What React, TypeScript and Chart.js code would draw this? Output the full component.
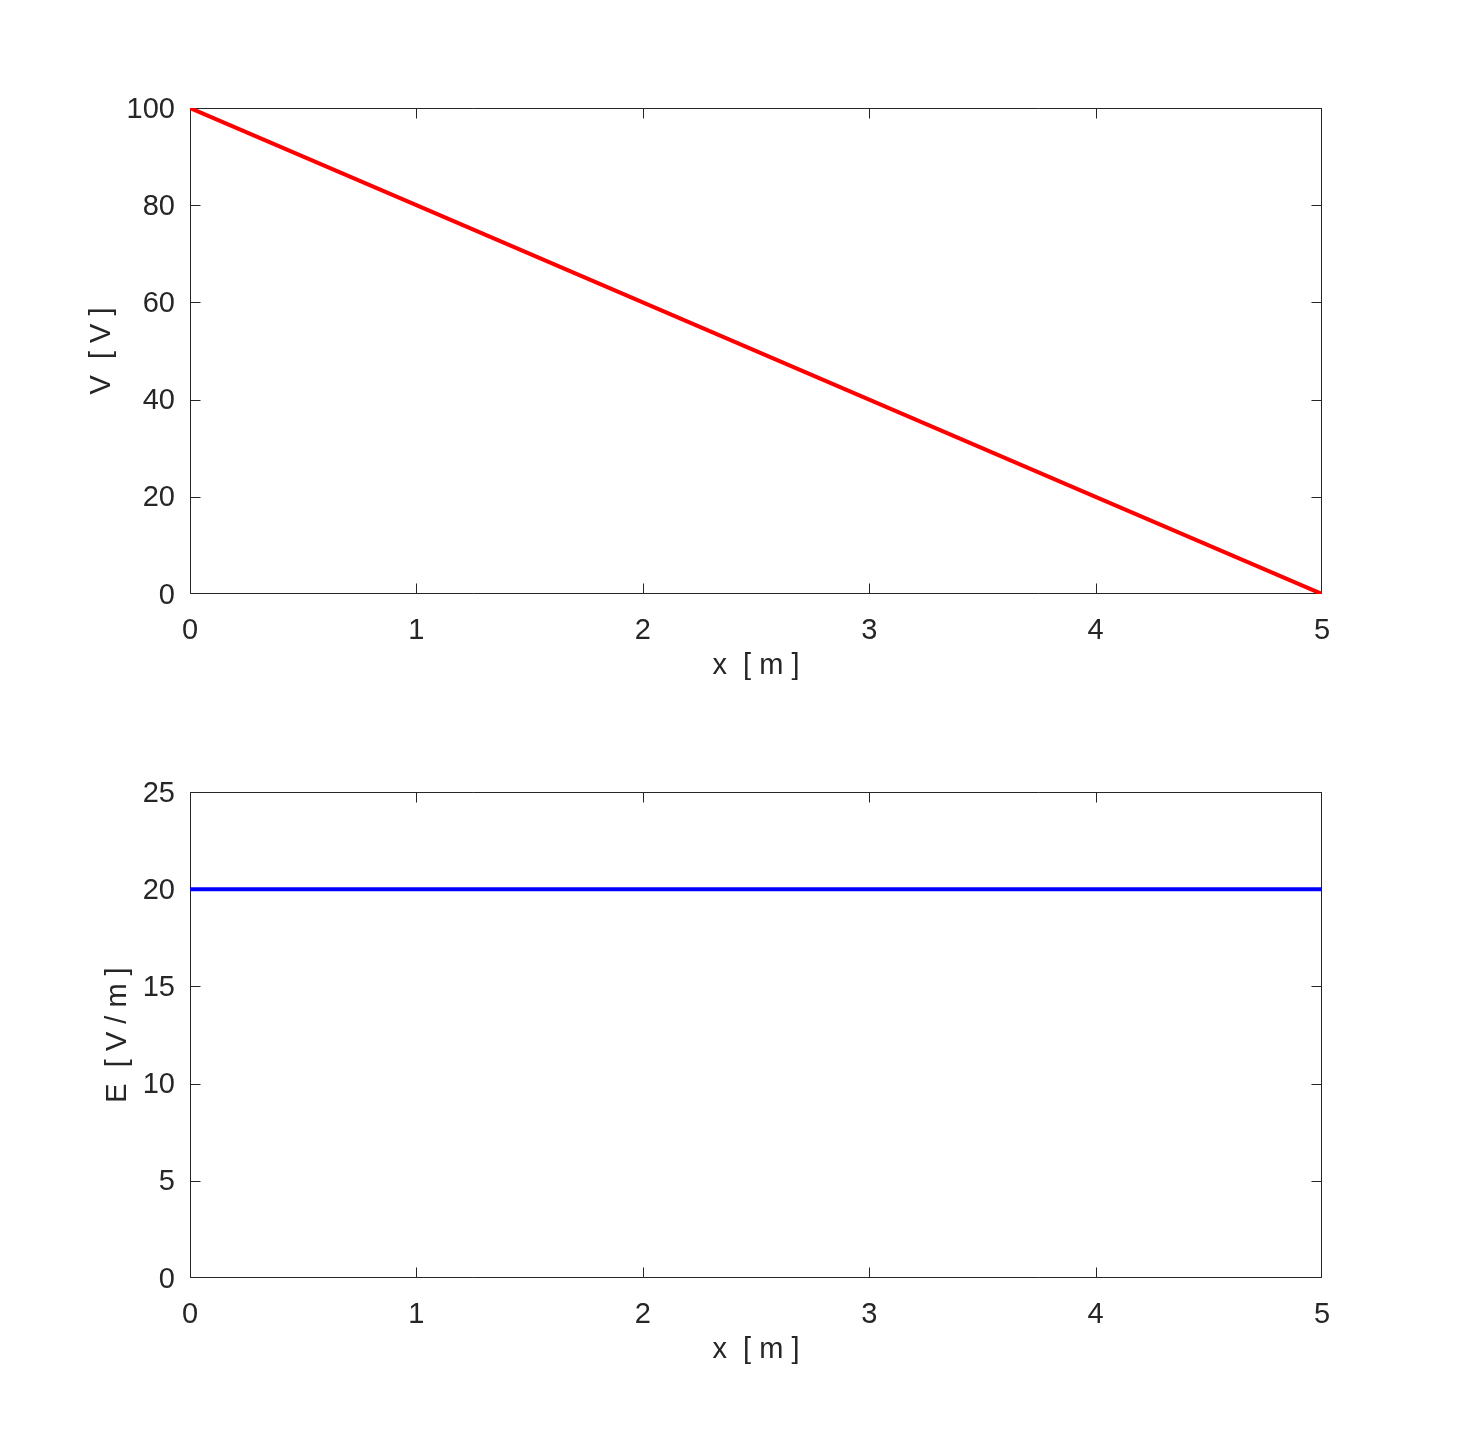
import React, { useEffect, useRef } from "react";
import { Chart, registerables } from "chart.js";

Chart.register(...registerables);

const xValues = [0, 1, 2, 3, 4, 5];
const potentialValues = [100, 80, 60, 40, 20, 0];
const fieldValues = [20, 20, 20, 20, 20, 20];
const xTickStep = 1;
const potentialTickStep = 20;
const fieldTickStep = 5;

const TEXT = "#262626";
const FONT = "'Liberation Sans', Arial, sans-serif";
const FONT_SIZE = 29;

const boxTicksPlugin = {
  id: "boxTicks",
  beforeDatasetsDraw(chart: any) {
    const { ctx, chartArea } = chart;
    const { left, right, top, bottom } = chartArea;
    const xs = chart.scales.x;
    const ys = chart.scales.y;
    const L = Math.round(left) + 0.5;
    const R = Math.round(right) - 0.5;
    const T = Math.round(top) + 0.5;
    const B = Math.round(bottom) - 0.5;
    const clamp = (v: number, a: number, b: number) => Math.min(b, Math.max(a, v));
    const len = 10;
    ctx.save();
    ctx.strokeStyle = TEXT;
    ctx.lineWidth = 1;
    ctx.beginPath();
    ctx.moveTo(L, T);
    ctx.lineTo(R, T);
    ctx.lineTo(R, B);
    ctx.lineTo(L, B);
    ctx.closePath();
    xs.ticks.forEach((t: any) => {
      const p = clamp(Math.round(xs.getPixelForValue(t.value)) + 0.5, L, R);
      ctx.moveTo(p, B);
      ctx.lineTo(p, B - len);
      ctx.moveTo(p, T);
      ctx.lineTo(p, T + len);
    });
    ys.ticks.forEach((t: any) => {
      const p = clamp(Math.round(ys.getPixelForValue(t.value)) + 0.5, T, B);
      ctx.moveTo(L, p);
      ctx.lineTo(L + len, p);
      ctx.moveTo(R, p);
      ctx.lineTo(R - len, p);
    });
    ctx.stroke();
    ctx.restore();
  },
};

function makeConfig(
  yData: number[],
  color: string,
  yMax: number,
  yStep: number,
  yTitle: string,
  leftPad: number
): any {
  const font = { family: FONT, size: FONT_SIZE };
  return {
    type: "line",
    data: {
      datasets: [
        {
          data: xValues.map((x, i) => ({ x, y: yData[i] })),
          borderColor: color,
          backgroundColor: color,
          borderWidth: 4,
          pointRadius: 0,
          tension: 0,
          fill: false,
        },
      ],
    },
    options: {
      responsive: false,
      animation: false,
      events: [],
      layout: { padding: { left: leftPad, top: 108, right: 139, bottom: 0 } },
      plugins: { legend: { display: false }, tooltip: { enabled: false } },
      scales: {
        x: {
          type: "linear",
          min: 0,
          max: 5,
          grid: { display: false, drawTicks: false },
          border: { display: false },
          ticks: { stepSize: xTickStep, color: TEXT, font, padding: 20, maxRotation: 0 },
          title: {
            display: true,
            text: "x  [ m ]",
            color: TEXT,
            font,
            padding: { top: 0, bottom: 35 },
          },
          afterFit(scale: any) {
            scale.height = 124;
          },
        },
        y: {
          type: "linear",
          min: 0,
          max: yMax,
          grid: { display: false, drawTicks: false },
          border: { display: false },
          ticks: { stepSize: yStep, color: TEXT, font, padding: 15, labelOffset: 1.5 },
          title: {
            display: true,
            text: yTitle,
            color: TEXT,
            font,
            padding: { top: 0, bottom: 0 },
          },
          afterFit(scale: any) {
            scale.width = 190 - leftPad;
          },
        },
      },
    },
    plugins: [boxTicksPlugin],
  };
}

function Panel({ top, config }: { top: number; config: any }) {
  const ref = useRef<HTMLCanvasElement | null>(null);
  useEffect(() => {
    if (!ref.current) return;
    const chart = new Chart(ref.current, config);
    return () => chart.destroy();
  }, []);
  return (
    <canvas
      ref={ref}
      width={1461}
      height={718}
      style={{ position: "absolute", left: 0, top, width: 1461, height: 718 }}
    />
  );
}

export default function App() {
  return (
    <div style={{ position: "absolute", left: 0, top: 0, width: 1461, height: 1436, background: "#fff" }}>
      <Panel top={0} config={makeConfig(potentialValues, "#ff0000", 100, potentialTickStep, "V  [ V ]", 85)} />
      <Panel top={684} config={makeConfig(fieldValues, "#0000ff", 25, fieldTickStep, "E  [ V / m ]", 101)} />
    </div>
  );
}
